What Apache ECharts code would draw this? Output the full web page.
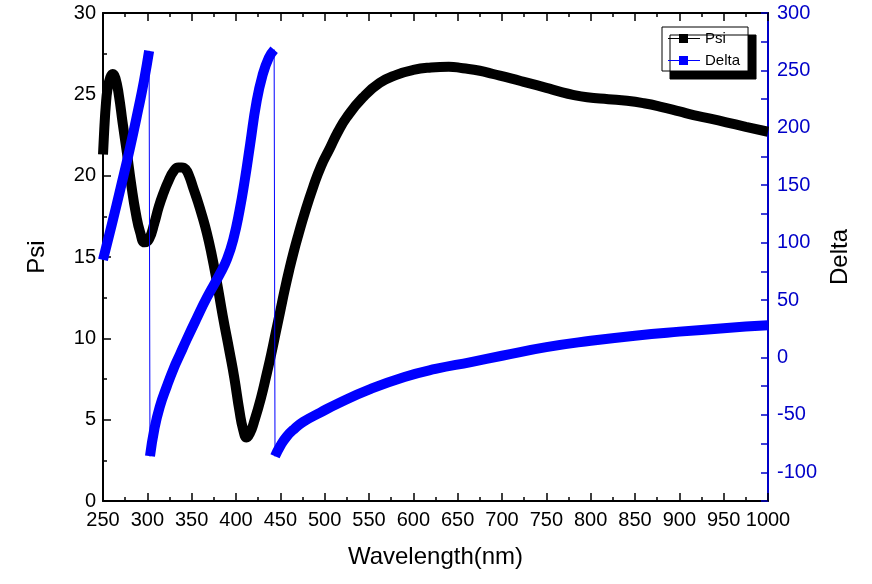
<!DOCTYPE html>
<html>
<head>
<meta charset="utf-8">
<script src="https://cdn.jsdelivr.net/npm/echarts/dist/echarts.min.js"></script>
<style>
html,body{margin:0;padding:0;background:#fff;}
#c{width:872px;height:584px;}
</style>
</head>
<body>
<div id="c"></div>
<script>
// ---- data ----
const psiWl = [250,251,252,253,255,258,261,264,268,272,277,282,287,292,297,302,308,313,318,324,330,335,339,343,347,352,357,362,367,372,378,385,393,398,404,408,412,416,420,428,435,440,445,450,455,460,465,470,478,487,496,506,515,525,543,562,581,600,620,640,656,675,690,710,728,750,765,780,796,820,841,860,878,900,916,935,953,975,1000];
const psiVal = [21.3,22.4,23.4,24.2,25.3,26.0,26.25,26.0,24.9,23.3,21.4,19.4,17.7,16.5,15.9,16.1,17.1,18.1,18.9,19.7,20.3,20.5,20.5,20.4,20.0,19.2,18.4,17.5,16.5,15.3,13.6,11.4,9.1,7.6,5.5,4.4,3.9,4.2,4.8,6.3,7.9,9.1,10.4,11.7,13.0,14.2,15.3,16.3,17.8,19.3,20.6,21.7,22.7,23.6,24.8,25.7,26.2,26.5,26.65,26.7,26.6,26.45,26.25,25.98,25.72,25.4,25.17,24.97,24.82,24.7,24.6,24.45,24.25,23.95,23.72,23.5,23.28,23.0,22.7];

const deltaWl1 = [250,260,270,280,290,296,302];
const deltaVal1 = [85,116,148,181,217,240,267];
const deltaWl2 = [303,308,314,322,330,337,344,355,367,382,390,397,404,410,416,423,430,437,443];
const deltaVal2 = [-86,-62,-43,-25,-9,3,15,33,52,73,86,103,128,155,186,222,246,261,268];
const deltaWl3 = [444,450,457,466,476,495,515,550,590,625,665,700,750,800,850,900,950,1000];
const deltaVal3 = [-86,-77,-69,-62,-56,-48,-40,-28,-17,-10,-4,1.5,9,14.5,19,22.5,25.5,28];

const xTicks = {min:250, max:1000, interval:50};
const psiTicks = {min:0, max:30, interval:5};
const deltaTicks = {min:-125, max:300, interval:25, labelStep:50};

// ---- helpers ----
const zip = (xs, ys) => xs.map((x, i) => [x, ys[i]]);
const FONT = '"Liberation Sans", Arial, sans-serif';
const BLUE = '#0000ff';
const AXBLUE = '#0000c8';
const legendIcon = 'path://M0 4.5 L32 4.5 L32 5.5 L0 5.5 Z M11 0.5 L20 0.5 L20 9.5 L11 9.5 Z';

const chart = echarts.init(document.getElementById('c'), null, {renderer:'canvas'});

const thick = (data, color, name, z) => ({
  type:'line', name:name, data:data, xAxisIndex:0,
  yAxisIndex: name === 'Psi' ? 0 : 1,
  showSymbol:false, symbol:'none', smooth:0.5,
  lineStyle:{color:color, width:10, cap:'butt', join:'round'},
  itemStyle:{color:color, borderWidth:0},
  z:z, animation:false, silent:true
});

const option = {
  animation:false,
  backgroundColor:'#fff',
  grid:{left:103, right:104, top:13, bottom:83, containLabel:false, outerBoundsMode:'none'},
  legend:{
    orient:'vertical', left:662, top:27,
    padding:[4,8,3,6], itemGap:7, itemWidth:32, itemHeight:10,
    backgroundColor:'#fff', borderColor:'#000', borderWidth:1, borderRadius:0,
    shadowColor:'#000', shadowBlur:0, shadowOffsetX:8, shadowOffsetY:8,
    textStyle:{color:'#000', fontSize:15, fontFamily:FONT},
    itemStyle:{borderWidth:0},
    selectedMode:false,
    data:[{name:'Psi', icon:legendIcon}, {name:'Delta', icon:legendIcon}]
  },
  xAxis:[{
    type:'value', position:'bottom', min:xTicks.min, max:xTicks.max, interval:xTicks.interval,
    name:'Wavelength(nm)', nameLocation:'middle', nameGap:44,
    nameTextStyle:{fontSize:24, fontFamily:FONT, color:'#000'},
    axisLine:{show:true, onZero:false, lineStyle:{color:'#000', width:2}},
    axisTick:{show:true, inside:true, length:8, lineStyle:{color:'#000', width:1.5}},
    minorTick:{show:true, splitNumber:2, length:4, lineStyle:{color:'#000', width:1.5}},
    axisLabel:{show:true, margin:9, fontSize:20, fontFamily:FONT, color:'#000', formatter: v => String(v)},
    splitLine:{show:false}, minorSplitLine:{show:false}
  },{
    type:'value', position:'top', min:xTicks.min, max:xTicks.max, interval:xTicks.interval,
    axisLine:{show:true, onZero:false, lineStyle:{color:'#000', width:2}},
    axisTick:{show:true, inside:true, length:8, lineStyle:{color:'#000', width:1.5}},
    minorTick:{show:true, splitNumber:2, length:4, lineStyle:{color:'#000', width:1.5}},
    axisLabel:{show:false}, splitLine:{show:false}
  }],
  yAxis:[{
    type:'value', position:'left', min:psiTicks.min, max:psiTicks.max, interval:psiTicks.interval,
    name:'Psi', nameLocation:'middle', nameGap:54,
    nameTextStyle:{fontSize:24, fontFamily:FONT, color:'#000'},
    axisLine:{show:true, onZero:false, lineStyle:{color:'#000', width:2}},
    axisTick:{show:true, inside:true, length:8, lineStyle:{color:'#000', width:1.5}},
    minorTick:{show:true, splitNumber:2, length:4, lineStyle:{color:'#000', width:1.5}},
    axisLabel:{show:true, margin:7, fontSize:20, fontFamily:FONT, color:'#000', formatter: v => String(v)},
    splitLine:{show:false}
  },{
    type:'value', position:'right', min:deltaTicks.min, max:deltaTicks.max, interval:deltaTicks.interval,
    name:'Delta', nameLocation:'middle', nameGap:59,
    nameTextStyle:{fontSize:24, fontFamily:FONT, color:'#000'},
    axisLine:{show:true, onZero:false, lineStyle:{color:AXBLUE, width:2}},
    axisTick:{show:true, inside:true, length:7, lineStyle:{color:AXBLUE, width:1.5}},
    axisLabel:{show:true, margin:9, fontSize:20, fontFamily:FONT, color:AXBLUE,
      formatter: v => (v % deltaTicks.labelStep === 0 ? String(v) : '')},
    splitLine:{show:false}
  }],
  series:[
    thick(zip(psiWl, psiVal), '#000', 'Psi', 2),
    {
      type:'line', name:'Delta', xAxisIndex:0, yAxisIndex:1,
      data: zip(deltaWl1.concat(deltaWl2, deltaWl3), deltaVal1.concat(deltaVal2, deltaVal3)),
      showSymbol:false, symbol:'none', smooth:false,
      lineStyle:{color:BLUE, width:1}, itemStyle:{color:BLUE, borderWidth:0},
      z:3, animation:false, silent:true
    },
    thick(zip(deltaWl1, deltaVal1), BLUE, 'Delta', 4),
    thick(zip(deltaWl2, deltaVal2), BLUE, 'Delta', 4),
    thick(zip(deltaWl3, deltaVal3), BLUE, 'Delta', 4)
  ]
};
chart.setOption(option);
</script>
</body>
</html>
